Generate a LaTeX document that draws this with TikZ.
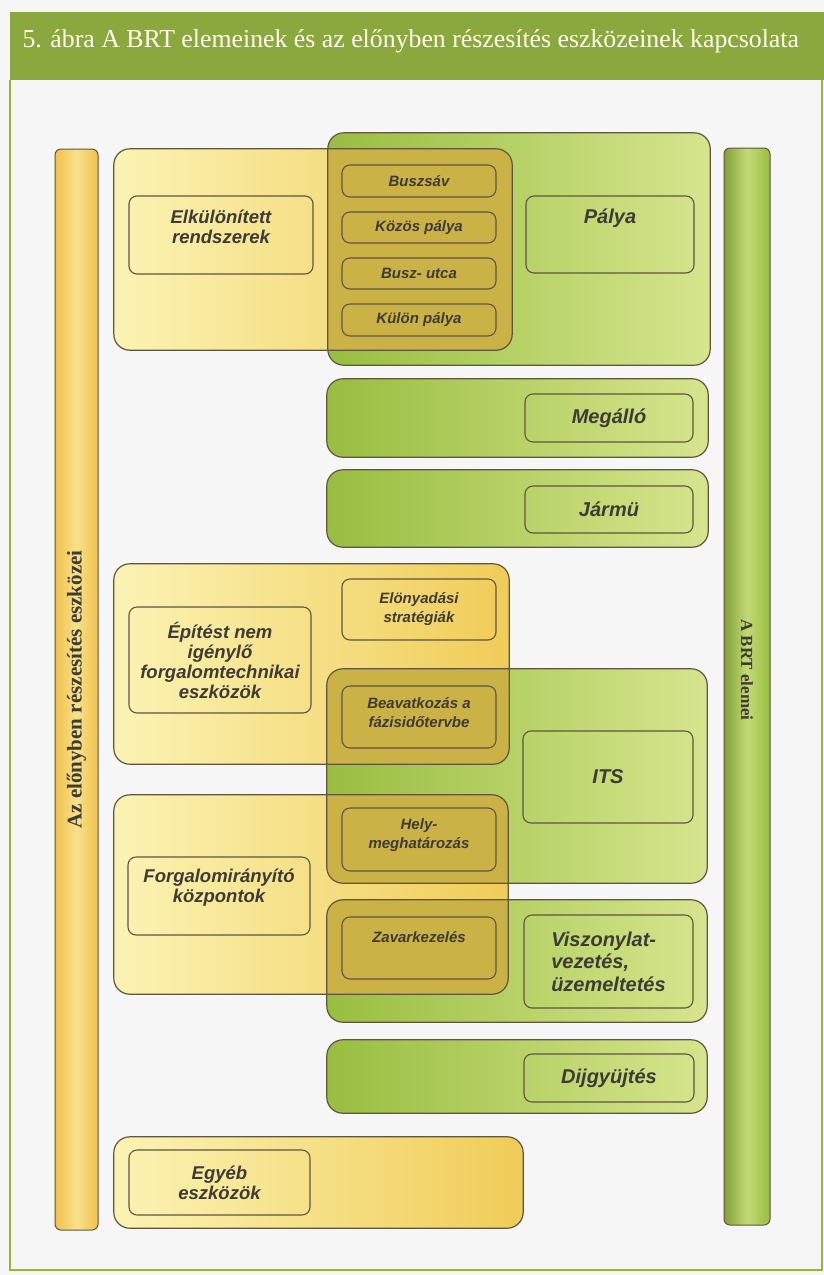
\documentclass[tikz,border=0pt]{standalone}
\usepackage{fontspec}
\setmainfont{Liberation Serif}
\setsansfont{Liberation Sans}
\usetikzlibrary{positioning}

\definecolor{brtGreen}{RGB}{152,190,64}
\definecolor{brtGreenLight}{RGB}{214,229,142}
\definecolor{brtTitle}{RGB}{138,168,62}
\definecolor{eszkYellow}{RGB}{240,204,88}
\definecolor{eszkLight}{RGB}{251,243,180}
\definecolor{eszkOlive}{RGB}{202,178,70}
\definecolor{boxLine}{RGB}{95,85,65}
\definecolor{boxText}{RGB}{62,58,52}
\definecolor{pageBg}{RGB}{246,246,247}

\begin{document}
\begin{tikzpicture}[x=1pt, y=-1pt,
    sz/.style 2 args={minimum width=#1, minimum height=#2},
    grbig/.style={shade, left color=brtGreen, right color=brtGreenLight, rounded corners=16pt, inner sep=0pt},
    ylbig/.style={shade, left color=eszkLight, right color=eszkYellow, rounded corners=16pt, inner sep=0pt},
    outline/.style={draw=boxLine, line width=1.2pt, rounded corners=16pt},
    inbox/.style={draw=boxLine, line width=1.1pt, rounded corners=8pt, inner sep=0pt, text=boxText, align=center},
    lefttxt/.style={inbox, font=\sffamily\bfseries\itshape\fontsize{18.5}{20}\selectfont},
    midtxt/.style={inbox, font=\sffamily\bfseries\itshape\fontsize{15}{19}\selectfont, sz={154pt}{#1}},
    righttxt/.style={inbox, font=\sffamily\bfseries\itshape\fontsize{20}{22.5}\selectfont},
    bartxt/.style={font=\bfseries\fontsize{#1}{#1}\selectfont, text=boxText}
  ]
  \useasboundingbox (0,0) rectangle (824,1275);
  \fill[pageBg] (0,0) rectangle (824,1275);

  % title and frame
  \fill[brtTitle] (10,12) rectangle (824,80);
  \draw[brtTitle!85!yellow, line width=1.2pt] (10,80) -- (10,1270) -- (822,1270) -- (822,80);
  \node[anchor=base west, text=white!92!yellow, font=\fontsize{25.8}{28}\selectfont] (cim) at (19,47)
    {5. ábra A BRT elemeinek és az előnyben részesítés eszközeinek kapcsolata};

  % side bars
  \node[shade, left color=eszkYellow!85!orange, right color=eszkYellow!85!orange, middle color=eszkLight!55!eszkYellow,
        draw=boxLine, line width=1pt, rounded corners=6pt, sz={43pt}{1081pt}] (eszkbar) at (76.5,689.5) {};
  \node[shade, left color=brtGreen!85!black, right color=brtGreen, middle color=brtGreenLight!70!brtGreen,
        draw=boxLine, line width=1pt, rounded corners=6pt, sz={46pt}{1077pt}] (brtbar) at (747,686.5) {};
  \node[bartxt=21, rotate=90] (eszklabel) at (eszkbar.center) {Az előnyben részesítés eszközei};
  \node[bartxt=17, rotate=-90] (brtlabel) at (747,670) {A BRT elemei};

  % BRT elements
  \node[grbig, sz={382pt}{232pt}] (palyaG) at (519,249) {};
  \node[grbig, sz={381pt}{78pt}] (megalloG) at (517.5,418) {};
  \node[grbig, sz={381pt}{77pt}] (jarmuG) at (517.5,508.5) {};
  \node[grbig, sz={380pt}{214pt}] (itsG) at (517,776) {};
  \node[grbig, sz={380pt}{122pt}] (viszG) at (517,961) {};
  \node[grbig, sz={380pt}{73pt}] (dijG) at (517,1076.5) {};

  % priority tools
  \node[ylbig, sz={398pt}{201pt}] (elkY) at (313,249.5) {};
  \node[ylbig, sz={395pt}{200pt}] (epitY) at (311.5,664) {};
  \node[ylbig, sz={394pt}{199pt}] (forgY) at (311,894.5) {};
  \node[ylbig, sz={409pt}{91pt}] (egyebY) at (318.5,1182.5) {};

  % overlaps
  \foreach \y/\g in {elkY/palyaG, epitY/itsG, forgY/itsG, forgY/viszG} {
    \begin{scope}
      \clip[rounded corners=16pt] (\g.south west) rectangle (\g.north east);
      \fill[eszkOlive, rounded corners=16pt] (\y.south west) rectangle (\y.north east);
    \end{scope}
  }
  \foreach \b in {palyaG, megalloG, jarmuG, itsG, viszG, dijG, elkY, epitY, forgY, egyebY}
    \draw[outline] (\b.south west) rectangle (\b.north east);

  % left column
  \node[lefttxt, sz={184pt}{78pt}, text depth=16pt] (elk) at (221,235) {Elkülönített\\rendszerek};
  \node[lefttxt, sz={182pt}{106pt}] (epit) at (220,660) {Építést nem\\igénylő\\forgalomtechnikai\\eszközök};
  \node[lefttxt, sz={182pt}{78pt}, text depth=20pt] (forg) at (219,896) {Forgalomirányító\\központok};
  \node[lefttxt, sz={181pt}{65pt}] (egyeb) at (219.5,1182.5) {Egyéb\\eszközök};

  % middle column
  \node[midtxt=32pt] (buszsav) at (419,181) {Buszsáv};
  \node[midtxt=31pt] (kozos) at (419,227.5) {Közös pálya};
  \node[midtxt=31pt] (buszutca) at (419,273.5) {Busz- utca};
  \node[midtxt=32pt] (kulon) at (419,320) {Külön pálya};
  \node[midtxt=61pt] (elony) at (419,609.5) {Elönyadási\\stratégiák};
  \node[midtxt=62pt, text depth=10pt] (beavat) at (419,717) {Beavatkozás a\\fázisidőtervbe};
  \node[midtxt=63pt, text depth=12pt] (hely) at (419,839.5) {Hely-\\meghatározás};
  \node[midtxt=62pt, text depth=22pt] (zavar) at (419,948) {Zavarkezelés};

  % right column
  \node[righttxt, sz={168pt}{77pt}, text depth=37pt] (palya) at (610,234.5) {Pálya};
  \node[righttxt, sz={168pt}{48pt}] (megallo) at (609,418) {Megálló};
  \node[righttxt, sz={168pt}{47pt}] (jarmu) at (609,509.5) {Jármü};
  \node[righttxt, sz={170pt}{92pt}] (its) at (608,777) {ITS};
  \node[righttxt, sz={169pt}{93pt}, align=left] (visz) at (608.5,961.5) {Viszonylat-\\vezetés,\\üzemeltetés};
  \node[righttxt, sz={170pt}{48pt}] (dij) at (609,1078) {Dijgyüjtés};
\end{tikzpicture}
\end{document}
